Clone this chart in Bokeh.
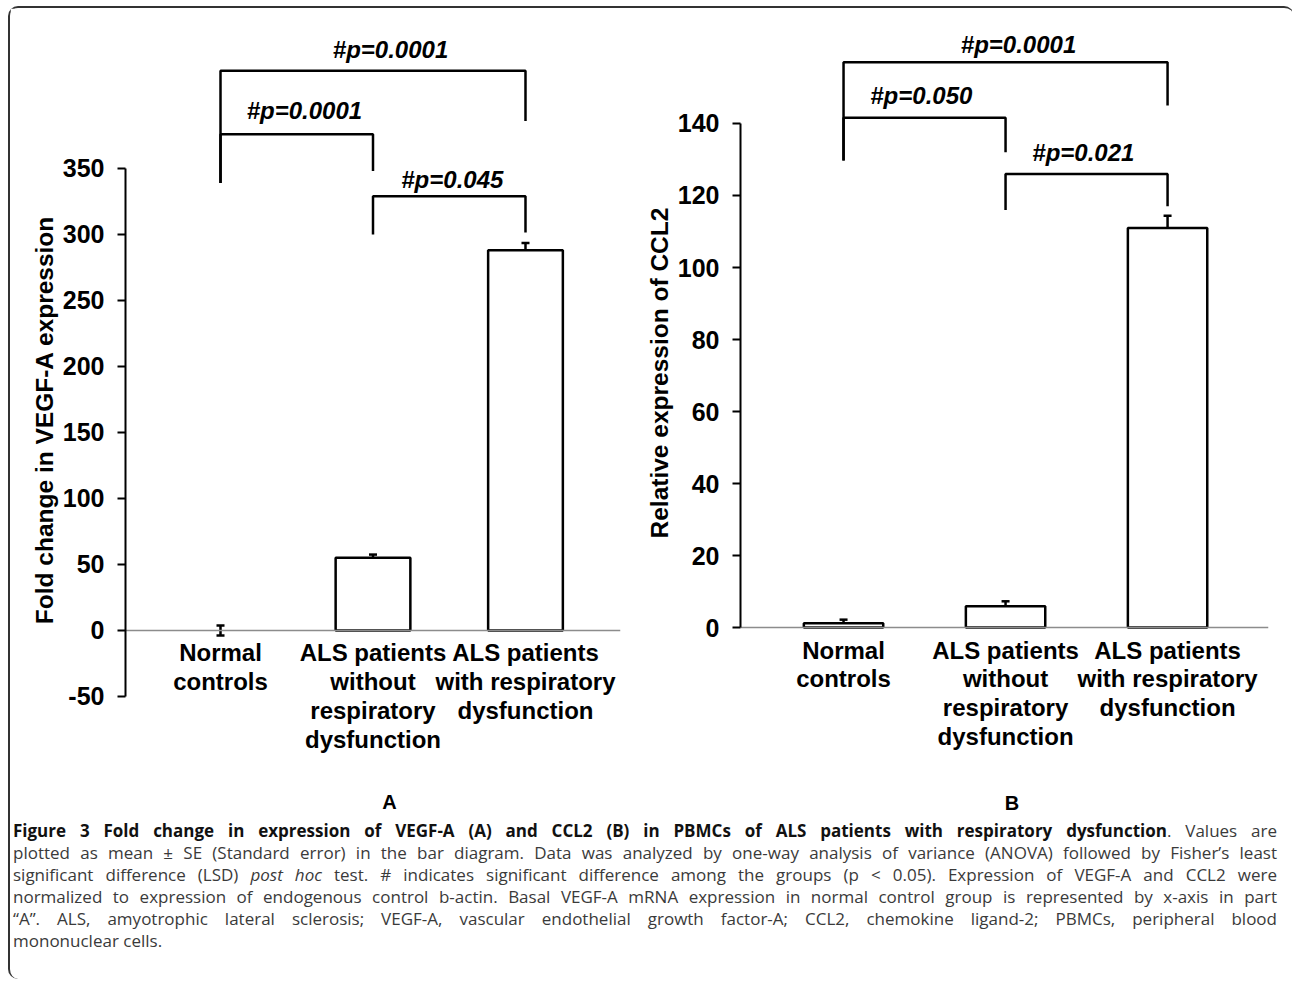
from bokeh.plotting import figure
from bokeh.models import (ColumnDataSource, Range1d, FixedTicker, Whisker, TeeHead, Div,
                          Label, Title)
from bokeh.layouts import row, column
from bokeh.core.properties import value
from bokeh.embed import file_html
from bokeh.resources import INLINE

# ---------------- data ----------------
categories = ["Normal\ncontrols",
              "ALS patients\nwithout\nrespiratory\ndysfunction",
              "ALS patients\nwith respiratory\ndysfunction"]
positions = [1, 2, 3]

vegf_mean = [0.0, 55.0, 288.0]
vegf_se = [3.8, 2.5, 5.5]
ccl2_mean = [1.2, 5.9, 111.0]
ccl2_se = [1.0, 1.4, 3.4]

vegf_ticks = [-50, 0, 50, 100, 150, 200, 250, 300, 350]
ccl2_ticks = [0, 20, 40, 60, 80, 100, 120, 140]

# significance brackets (group pairs, heights in data units)
vegf_pairs = [(1, 3), (1, 2), (2, 3)]
vegf_bracket_top = [424, 376, 329]
vegf_bracket_left_end = [339, 339, 300]
vegf_bracket_right_end = [386, 348, 301.5]
vegf_p_labels = ["#p=0.0001", "#p=0.0001", "#p=0.045"]
vegf_label_x = [2.115, 1.55, 2.52]
vegf_label_y = [440, 394, 342]

ccl2_pairs = [(1, 3), (1, 2), (2, 3)]
ccl2_bracket_top = [157, 141.6, 126]
ccl2_bracket_left_end = [129.7, 129.7, 116]
ccl2_bracket_right_end = [145, 132, 117]
ccl2_p_labels = ["#p=0.0001", "#p=0.050", "#p=0.021"]
ccl2_label_x = [2.08, 1.48, 2.48]
ccl2_label_y = [162, 147.8, 132]

FONT = "Liberation Sans"


def make_panel(means, ses, ticks, ylabel, pairs, btop, bleft, bright, plabels, lx, ly,
               panel_letter, letter_x, letter_y,
               width, height, x_range, y_range, mb_left, mb_right, mb_top, mb_bottom,
               label_as_title=False, title_offset=0):
    p = figure(width=width, height=height, output_backend="svg", toolbar_location=None,
               x_range=Range1d(*x_range), y_range=Range1d(*y_range),
               min_border_left=mb_left, min_border_right=mb_right,
               min_border_top=mb_top, min_border_bottom=mb_bottom)
    p.outline_line_color = None
    p.xgrid.visible = False
    p.ygrid.visible = False
    p.background_fill_color = "white"
    p.border_fill_color = "white"

    # bars (zero-valued baseline group is represented by the x-axis itself)
    bx = [x for x, m in zip(positions, means) if m > 0]
    bt = [m for m in means if m > 0]
    p.vbar(x=bx, top=bt, bottom=0, width=0.49, fill_color="white",
           line_color="black", line_width=2.5)

    # error bars
    src = ColumnDataSource(dict(x=positions,
                                upper=[m + s for m, s in zip(means, ses)],
                                lower=[m - s for m, s in zip(means, ses)]))
    w = Whisker(source=src, base="x", upper="upper", lower="lower", dimension="height",
                line_color="black", line_width=2.5,
                upper_head=TeeHead(size=8, line_width=2.5, line_color="black"),
                lower_head=TeeHead(size=8, line_width=2.5, line_color="black"))
    p.add_layout(w)

    # brackets
    xs, ys = [], []
    for (a, b), t, l, r in zip(pairs, btop, bleft, bright):
        xs.append([a, a, b, b])
        ys.append([l, t, t, r])
    p.multi_line(xs=xs, ys=ys, line_color="black", line_width=2.5)
    p.text(x=lx, y=ly, text=plabels, text_font=value(FONT), text_font_style="bold italic",
           text_font_size="24px", text_align="center", text_baseline="middle",
           text_color="black")

    # panel letter
    p.add_layout(Label(x=letter_x, y=letter_y, x_units="data", y_units="data",
                       text=panel_letter, text_font=FONT, text_font_style="bold",
                       text_font_size="20px", text_align="center",
                       text_baseline="middle", text_color="black"))

    # x axis at y = 0
    xa = p.xaxis[0]
    xa.fixed_location = 0
    xa.ticker = FixedTicker(ticks=positions)
    xa.major_label_overrides = {pos: lab for pos, lab in zip(positions, categories)}
    xa.major_label_text_font = FONT
    xa.major_label_text_font_style = "bold"
    xa.major_label_text_font_size = "24px"
    xa.major_label_text_line_height = 1.07
    xa.major_label_text_color = "black"
    xa.major_label_standoff = 3
    xa.axis_line_color = "#8c8c8c"
    xa.axis_line_width = 1.5
    xa.major_tick_line_color = None
    xa.minor_tick_line_color = None

    ya = p.yaxis[0]
    ya.bounds = (ticks[0], ticks[-1])
    ya.ticker = FixedTicker(ticks=ticks)
    ya.major_label_overrides = {t: str(t) for t in ticks}
    ya.major_label_text_font = FONT
    ya.major_label_text_font_style = "bold"
    ya.major_label_text_font_size = "25px"
    ya.major_label_text_color = "black"
    ya.major_label_standoff = 13
    ya.major_tick_in = 0
    ya.major_tick_out = 8
    ya.major_tick_line_width = 2
    ya.minor_tick_line_color = None
    ya.axis_line_width = 2
    ya.axis_line_color = "black"
    ya.major_tick_line_color = "black"
    if label_as_title:
        p.add_layout(Title(text=ylabel, align="left", offset=title_offset,
                           vertical_align="bottom", standoff=4,
                           text_font=FONT, text_font_style="bold",
                           text_font_size="24.5px", text_color="black"), "left")
    else:
        ya.axis_label = ylabel
        ya.axis_label_text_font = FONT
        ya.axis_label_text_font_style = "bold"
        ya.axis_label_text_font_size = "24.5px"
        ya.axis_label_text_color = "black"
        ya.axis_label_standoff = 2
    return p


pA = make_panel(vegf_mean, vegf_se, vegf_ticks, "Fold change in VEGF-A expression",
                vegf_pairs, vegf_bracket_top, vegf_bracket_left_end, vegf_bracket_right_end,
                vegf_p_labels, vegf_label_x, vegf_label_y,
                "A", 2.108, -130,
                width=630, height=811, x_range=(0.377, 3.623), y_range=(-143.2, 462.1),
                mb_left=115, mb_right=20, mb_top=12, mb_bottom=0)

pB = make_panel(ccl2_mean, ccl2_se, ccl2_ticks, "Relative expression of CCL2",
                ccl2_pairs, ccl2_bracket_top, ccl2_bracket_left_end, ccl2_bracket_right_end,
                ccl2_p_labels, ccl2_label_x, ccl2_label_y,
                "B", 2.04, -48.6,
                width=644, height=811, x_range=(0.364, 3.623), y_range=(-53.3, 168.6),
                mb_left=100, mb_right=16, mb_top=12, mb_bottom=0,
                label_as_title=True, title_offset=281)

line_style = ("white-space:nowrap;text-align:justify;text-align-last:justify;"
              "height:22px;line-height:22px;")
caption_lines = [
    "<b style='color:#111'>Figure 3 Fold change in expression of VEGF-A (A) and CCL2 (B) in PBMCs of ALS "
    "patients with respiratory dysfunction</b>. Values are",
    "plotted as mean ± SE (Standard error) in the bar diagram. Data was analyzed by one-way analysis "
    "of variance (ANOVA) followed by Fisher’s least",
    "significant difference (LSD) <i>post hoc</i> test. # indicates significant difference among the "
    "groups (p &lt; 0.05). Expression of VEGF-A and CCL2 were",
    "normalized to expression of endogenous control b-actin. Basal VEGF-A mRNA expression in normal "
    "control group is represented by x-axis in part",
    "“A”. ALS, amyotrophic lateral sclerosis; VEGF-A, vascular endothelial growth factor-A; CCL2, "
    "chemokine ligand-2; PBMCs, peripheral blood",
]
html = "".join(f"<div style='{line_style}'>{t}</div>" for t in caption_lines)
html += ("<div style='white-space:nowrap;text-align:left;height:22px;line-height:22px;'>"
         "mononuclear cells.</div>")
caption = Div(text=f"<div style=\"font-family:'Open Sans';font-size:17px;color:#3a3a3a;"
                   f"width:1264px;position:relative;top:-4px;left:-2px;\">{html}</div>",
              width=1274, height=150,
              styles={"padding-left": "0px", "padding-right": "0px", "box-sizing": "border-box"})

layout = column(row(pA, pB), caption,
                styles={"margin-left": "8px", "margin-top": "6px",
                        "border-top": "2px solid #333", "border-left": "2px solid #333",
                        "border-top-left-radius": "10px", "border-bottom-left-radius": "10px",
                        "border-top-right-radius": "10px"})

open("out.html", "w").write(file_html(layout, INLINE))
